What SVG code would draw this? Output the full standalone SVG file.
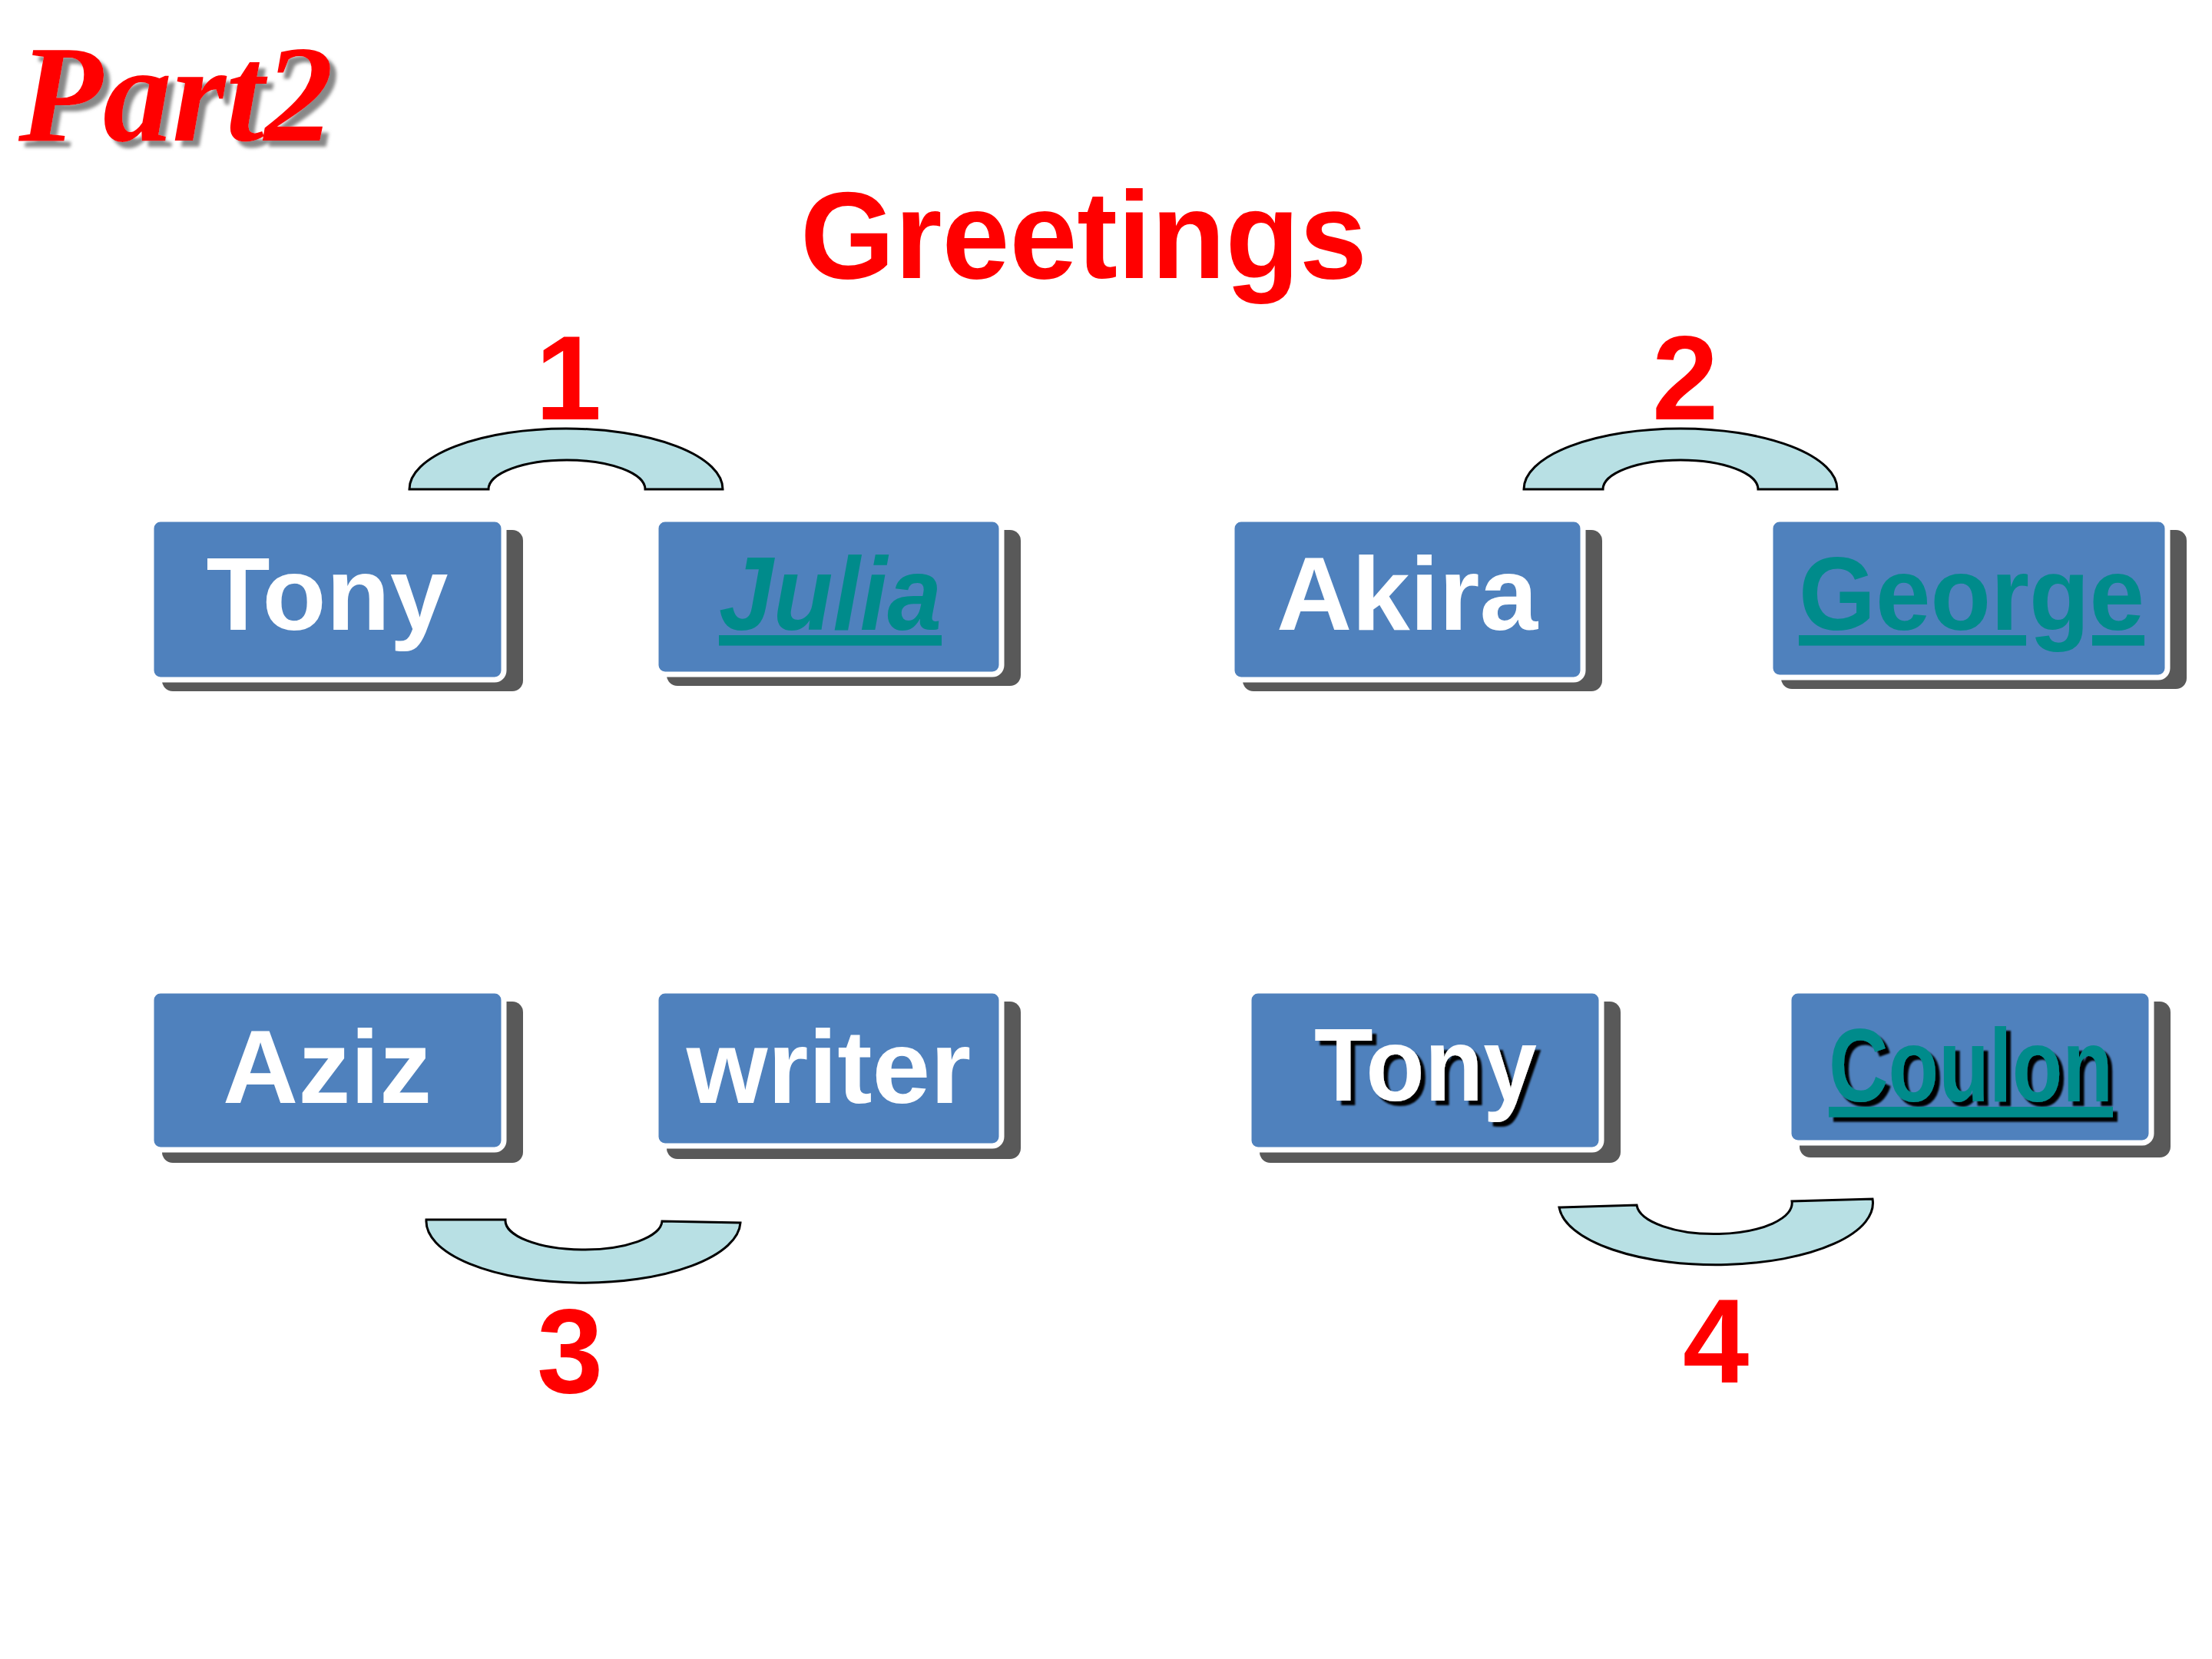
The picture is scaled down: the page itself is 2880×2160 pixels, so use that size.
<svg xmlns="http://www.w3.org/2000/svg" width="2880" height="2160" viewBox="0 0 2880 2160">
<defs>
<filter id="dsg" x="-10%" y="-10%" width="130%" height="140%"><feDropShadow dx="8" dy="8" stdDeviation="2" flood-color="#888"/></filter>
<filter id="dsk" x="-10%" y="-10%" width="130%" height="140%"><feDropShadow dx="6" dy="6" stdDeviation="1" flood-color="#000"/></filter>
</defs>
<style>
.sh{fill:#595959}
.bx{fill:#4F81BD;stroke:#fff;stroke-width:7}
.t{font-family:"Liberation Sans",Arial,sans-serif;font-weight:bold;font-size:136px;text-anchor:middle}
.w{fill:#fff}
.g{fill:#008B8B;text-decoration:underline}
.n{font-family:"Liberation Sans",Arial,sans-serif;font-weight:bold;font-size:155px;fill:#FF0000;text-anchor:middle}
.arc{fill:#B8E0E4;stroke:#000;stroke-width:3}
</style>
<rect width="2880" height="2160" fill="#fff"/>
<text x="24" y="183" font-family="'Liberation Serif',serif" font-weight="bold" font-style="italic" font-size="180" fill="#FF0000" filter="url(#dsg)">Part2</text>
<text x="1411" y="362" font-family="'Liberation Sans',Arial,sans-serif" font-weight="bold" font-size="162" fill="#FF0000" text-anchor="middle" textLength="738" lengthAdjust="spacingAndGlyphs">Greetings</text>
<g id="labels">
<text class="n" x="740" y="546">1</text>
<text class="n" x="2194" y="546">2</text>
<text class="n" x="742" y="1813">3</text>
<text class="n" x="2234" y="1800">4</text>
</g>
<g id="connectors">
<path class="arc" d="M533,637 A204,79 0 0 1 941,637 L840,637 A102,38 0 0 0 636,637 Z"/>
<path class="arc" d="M1984,637 A204,79 0 0 1 2392,637 L2289,637 A101,38 0 0 0 2087,637 Z"/>
<path class="arc" d="M555,1588 A204,80 0 0 0 964,1592 L862,1590 A102,38 0 0 1 658,1588 Z"/>
<path class="arc" d="M2030,1572 A204,80 0 0 0 2438,1561 L2333,1564 A101,40 0 0 1 2131,1569 Z"/>
</g>
<g id="tony1"><rect class="sh" x="211" y="690" width="470" height="210" rx="14"/><rect class="bx" x="197" y="676" width="459" height="209" rx="12"/><text class="t w" x="426" y="820">Tony</text></g>
<g id="julia"><rect class="sh" x="868" y="690" width="461" height="203" rx="14"/><rect class="bx" x="854" y="676" width="450" height="202" rx="12"/><text class="t g" x="1081" y="820" font-style="italic" textLength="290" lengthAdjust="spacingAndGlyphs">Julia</text></g>
<g id="akira"><rect class="sh" x="1618" y="690" width="468" height="210" rx="14"/><rect class="bx" x="1604" y="676" width="457" height="209" rx="12"/><text class="t w" x="1832" y="820">Akira</text></g>
<g id="george"><rect class="sh" x="2319" y="690" width="528" height="207" rx="14"/><rect class="bx" x="2305" y="676" width="517" height="206" rx="12"/><text class="t g" x="2567" y="820" textLength="450" lengthAdjust="spacingAndGlyphs">George</text></g>
<g id="aziz"><rect class="sh" x="211" y="1304" width="470" height="210" rx="14"/><rect class="bx" x="197" y="1290" width="459" height="207" rx="12"/><text class="t w" x="426" y="1436">Aziz</text></g>
<g id="writer"><rect class="sh" x="868" y="1304" width="461" height="205" rx="14"/><rect class="bx" x="854" y="1290" width="450" height="202" rx="12"/><text class="t w" x="1079" y="1436">writer</text></g>
<g id="tony2"><rect class="sh" x="1640" y="1304" width="470" height="210" rx="14"/><rect class="bx" x="1626" y="1290" width="459" height="207" rx="12"/><text class="t w" x="1856" y="1433" filter="url(#dsk)" textLength="290" lengthAdjust="spacingAndGlyphs">Tony</text></g>
<g id="coulon"><rect class="sh" x="2343" y="1304" width="483" height="203" rx="14"/><rect class="bx" x="2329" y="1290" width="472" height="198" rx="12"/><text class="t g" x="2566" y="1434" filter="url(#dsk)" textLength="370" lengthAdjust="spacingAndGlyphs">Coulon</text></g>
</svg>
